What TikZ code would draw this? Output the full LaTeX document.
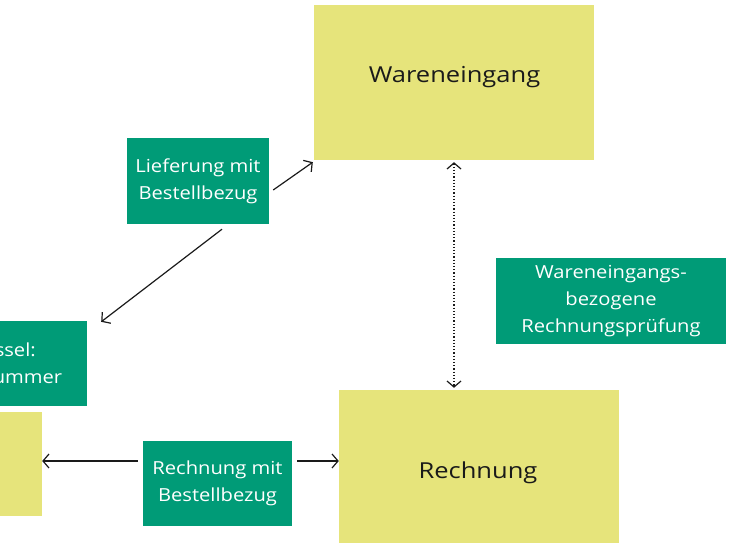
\documentclass[tikz,border=0pt]{standalone}
\usepackage{fontspec}
\setmainfont{Open Sans}
\newfontfamily\yfont[FakeStretch=1.16]{Open Sans}
\newfontfamily\gfont[FakeStretch=1.12]{Open Sans}
\usetikzlibrary{arrows.meta}
\definecolor{boxyellow}{HTML}{E6E47B}
\definecolor{boxgreen}{HTML}{009B77}
\definecolor{ink}{HTML}{1A1A1A}
\tikzset{
  ybox/.style={fill=boxyellow, draw=none, inner sep=0pt},
  ytext/.style={text=ink, font=\yfont\fontsize{22}{28}\selectfont, inner sep=0pt},
  gbox/.style={fill=boxgreen, draw=none, text=white, font=\gfont\fontsize{18}{27}\selectfont, align=center, inner sep=0pt},
  conn/.style={draw=ink, line width=1.2pt, -{Straight Barb[length=6pt,width=14pt]}},
  dconn/.style={draw=ink, line width=1.2pt, dotted, {Straight Barb[length=6pt,width=14pt]}-{Straight Barb[length=6pt,width=14pt]}},
}
\begin{document}
\begin{tikzpicture}[x=1pt,y=-1pt]
\useasboundingbox (0,0) rectangle (731,544);
\clip (0,0) rectangle (731,544);
\node[ybox, minimum width=280pt, minimum height=155pt] (W) at (454,82.5) {};
\node[ytext, anchor=base] (Wt) at (454.5,82) {Wareneingang};
\node[ybox, minimum width=280pt, minimum height=153pt] (R) at (479,466.5) {};
\node[ytext, anchor=base] (Rt) at (478,478) {Rechnung};
\node[ybox, minimum width=124pt, minimum height=104pt] (L) at (-20,464) {};
\node[gbox, minimum width=142pt, minimum height=86pt] (G1) at (198,181) {Lieferung mit\\Bestellbezug};
\node[gbox, minimum width=194pt, minimum height=85pt] (G2) at (-10,363.5) {Schlüssel:\\Bestellnummer};
\node[gbox, minimum width=149pt, minimum height=85pt] (G3) at (217.5,483.5) {Rechnung mit\\Bestellbezug};
\node[gbox, minimum width=230pt, minimum height=86pt] (G4) at (611,301) {Wareneingangs-\\bezogene\\Rechnungsprüfung};
\draw[conn] ([xshift=4pt,yshift=-9pt]G1.east) -- ([xshift=-1pt,yshift=-2pt]W.south west);
\draw[conn] ([xshift=24pt,yshift=-5pt]G1.south) -- ([xshift=14pt,yshift=-1pt]G2.north east);
\draw[dconn] ([yshift=-2pt]W.south) -- ([yshift=2pt]W.south |- R.north);
\coordinate (h) at ([xshift=-5pt,yshift=22.5pt]G3.west);
\draw[conn] (h) -- (L.east |- h);
\draw[conn] ([xshift=5pt]G3.east |- h) -- (R.west |- h);
\end{tikzpicture}
\end{document}
